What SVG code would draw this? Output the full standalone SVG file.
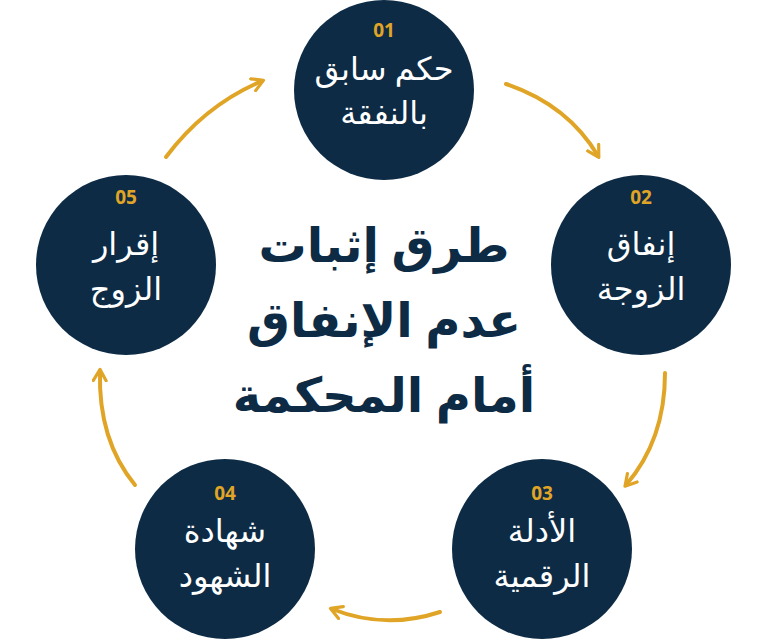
<svg xmlns="http://www.w3.org/2000/svg" width="768" height="644" viewBox="0 0 768 644">
<style>
.c{fill:#0D2B45}
.n{font-family:"Noto Sans","DejaVu Sans",sans-serif;font-weight:bold;font-size:19px;fill:#E0A526;text-anchor:middle}
.t{font-family:"Noto Sans","DejaVu Sans",sans-serif;font-size:32px;fill:#fff;text-anchor:middle}
.h{font-family:"Noto Sans","DejaVu Sans",sans-serif;font-weight:bold;font-size:48px;fill:#0D2B45;text-anchor:middle}
.a{fill:none;stroke:#E0A526;stroke-width:4;stroke-linecap:round;marker-end:url(#m)}
</style>
<defs>
<marker id="m" viewBox="0 0 10 10" refX="7" refY="5" markerWidth="4" markerHeight="4" orient="auto" markerUnits="strokeWidth">
<path d="M1,1 L8,5 L1,9" fill="none" stroke="#E0A526" stroke-width="2" stroke-linecap="round" stroke-linejoin="round"/>
</marker>
</defs>
<g id="connectors">
<path class="a" d="M506,84 Q568,105 598,156"/>
<path class="a" d="M665,373 Q665,440 626,485"/>
<path class="a" d="M440,612 Q385,630 332,609"/>
<path class="a" d="M135,485 Q98,440 100,371"/>
<path class="a" d="M166,157 Q205,105 262,81"/>
</g>
<g id="title">
<text class="h" x="384" y="262">طرق إثبات</text>
<text class="h" x="384" y="337">عدم الإنفاق</text>
<text class="h" x="384" y="412">أمام المحكمة</text>
</g>
<g id="n1"><circle class="c" cx="384" cy="90" r="90"/><text class="n" x="384" y="37">01</text><text class="t" x="384" y="80">حكم سابق</text><text class="t" x="384" y="124">بالنفقة</text></g>
<g id="n2"><circle class="c" cx="641" cy="265" r="90"/><text class="n" x="641" y="204">02</text><text class="t" x="641" y="255">إنفاق</text><text class="t" x="641" y="300">الزوجة</text></g>
<g id="n3"><circle class="c" cx="542" cy="549" r="90"/><text class="n" x="542" y="500">03</text><text class="t" x="542" y="542">الأدلة</text><text class="t" x="542" y="587">الرقمية</text></g>
<g id="n4"><circle class="c" cx="225" cy="549" r="90"/><text class="n" x="225" y="500">04</text><text class="t" x="225" y="542">شهادة</text><text class="t" x="225" y="587">الشهود</text></g>
<g id="n5"><circle class="c" cx="126" cy="265" r="90"/><text class="n" x="126" y="204">05</text><text class="t" x="126" y="255">إقرار</text><text class="t" x="126" y="300">الزوج</text></g>
</svg>
